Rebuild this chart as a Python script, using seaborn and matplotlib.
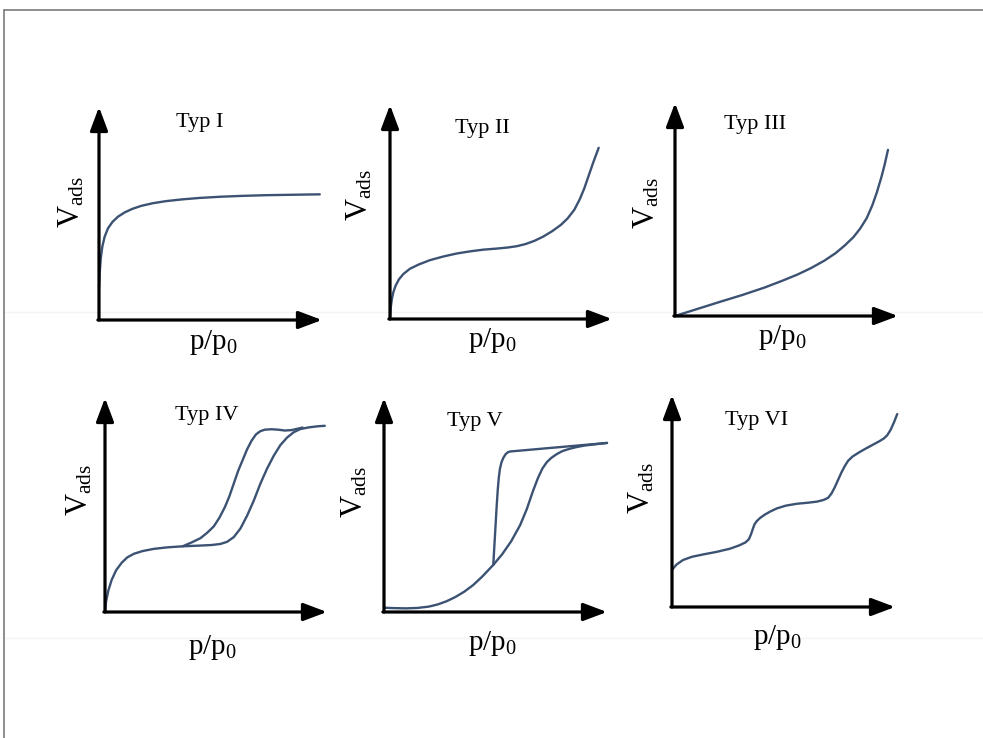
"""
Six classic IUPAC adsorption isotherm shapes (Typ I - VI), drawn as
schematic sketches with arrow axes.
"""

import matplotlib.pyplot as plt
import seaborn as sns
from matplotlib.lines import Line2D

W, H = 983, 738
LINE_COLOR = "#3c5273"

# curve values, as fractions of each axis (origin -> arrow tip)
typ1_x = [0, 0.003, 0.008, 0.015, 0.025, 0.04, 0.06, 0.085, 0.115, 0.15, 0.19, 0.24, 0.30, 0.37,
          0.45, 0.55, 0.65, 0.75, 0.87, 0.99]
typ1_y = [0.155, 0.22, 0.29, 0.345, 0.39, 0.43, 0.46, 0.485, 0.505, 0.522, 0.536, 0.548, 0.558, 0.566,
          0.573, 0.579, 0.583, 0.586, 0.588, 0.59]

typ2_x = [0, 0.003, 0.008, 0.015, 0.025, 0.04, 0.06, 0.09, 0.13, 0.18, 0.24, 0.30, 0.36, 0.42, 0.48,
          0.53, 0.57, 0.61, 0.65, 0.69, 0.73, 0.77, 0.80, 0.83, 0.855, 0.875, 0.895, 0.915, 0.94]
typ2_y = [0, 0.05, 0.09, 0.125, 0.155, 0.185, 0.21, 0.235, 0.255, 0.275, 0.292, 0.306, 0.316, 0.324, 0.329,
          0.334, 0.34, 0.35, 0.365, 0.385, 0.41, 0.44, 0.47, 0.51, 0.56, 0.61, 0.67, 0.73, 0.80]

typ3_x = [0, 0.1, 0.2, 0.3, 0.4, 0.48, 0.55, 0.61, 0.67, 0.72, 0.76, 0.80, 0.83, 0.86, 0.885, 0.905,
          0.925, 0.94, 0.955]
typ3_y = [0, 0.033, 0.066, 0.098, 0.133, 0.165, 0.195, 0.225, 0.26, 0.295, 0.33, 0.37, 0.41, 0.46, 0.52, 0.58,
          0.65, 0.71, 0.78]

typ4_ads_x = [0, 0.005, 0.015, 0.03, 0.05, 0.075, 0.10, 0.13, 0.17, 0.22, 0.28, 0.35, 0.42, 0.48, 0.52,
              0.55, 0.58, 0.61, 0.64, 0.67, 0.70, 0.73, 0.76, 0.79, 0.82, 0.85, 0.88, 0.92, 0.96, 0.99]
typ4_ads_y = [0, 0.05, 0.10, 0.15, 0.195, 0.23, 0.255, 0.272, 0.285, 0.295, 0.302, 0.307, 0.31, 0.313, 0.318,
              0.328, 0.35, 0.39, 0.45, 0.52, 0.60, 0.67, 0.73, 0.78, 0.815, 0.84, 0.855, 0.863, 0.868, 0.87]
typ4_des_x = [0.35, 0.39, 0.43, 0.46, 0.49, 0.515, 0.54, 0.56, 0.58, 0.60, 0.62, 0.64, 0.66, 0.68, 0.70,
              0.72, 0.75, 0.78, 0.81, 0.84, 0.87, 0.89]
typ4_des_y = [0.307, 0.325, 0.345, 0.37, 0.40, 0.44, 0.49, 0.54, 0.60, 0.66, 0.71, 0.76, 0.80, 0.83, 0.845,
              0.852, 0.854, 0.852, 0.848, 0.85, 0.857, 0.862]

typ5_ads_x = [0, 0.05, 0.10, 0.15, 0.20, 0.24, 0.28, 0.32, 0.36, 0.40, 0.44, 0.49, 0.53, 0.57, 0.61,
              0.64, 0.668, 0.69, 0.71, 0.73, 0.75, 0.775, 0.80, 0.83, 0.86, 0.90, 0.95, 1.0]
typ5_ads_y = [0.02, 0.018, 0.017, 0.019, 0.025, 0.035, 0.05, 0.07, 0.095, 0.126, 0.165, 0.22, 0.27, 0.33,
              0.405, 0.48, 0.565, 0.625, 0.67, 0.70, 0.72, 0.738, 0.752, 0.762, 0.77, 0.778, 0.784, 0.79]
typ5_des_x = [0.49, 0.495, 0.50, 0.505, 0.51, 0.515, 0.52, 0.527, 0.535, 0.545, 0.555, 0.565, 1.0]
typ5_des_y = [0.22, 0.31, 0.40, 0.49, 0.57, 0.63, 0.67, 0.70, 0.72, 0.737, 0.746, 0.75, 0.79]

typ6_x = [0, 0.02, 0.05, 0.09, 0.14, 0.20, 0.26, 0.30, 0.33, 0.345, 0.355, 0.363, 0.37, 0.38, 0.395,
          0.415, 0.44, 0.47, 0.51, 0.56, 0.61, 0.65, 0.68, 0.70, 0.715, 0.73, 0.745, 0.76, 0.775, 0.79,
          0.81, 0.84, 0.87, 0.90, 0.93, 0.95, 0.965, 0.98, 0.995, 1.01]
typ6_y = [0.175, 0.20, 0.222, 0.237, 0.248, 0.26, 0.275, 0.29, 0.305, 0.32, 0.345, 0.37, 0.39, 0.405, 0.42,
          0.435, 0.45, 0.465, 0.478, 0.487, 0.492, 0.497, 0.505, 0.515, 0.535, 0.565, 0.60, 0.635, 0.665, 0.69,
          0.71, 0.73, 0.748, 0.765, 0.782, 0.795, 0.81, 0.835, 0.87, 0.91]

titles = ["Typ I", "Typ II", "Typ III", "Typ IV", "Typ V", "Typ VI"]
curves = [
    [(typ1_x, typ1_y)],
    [(typ2_x, typ2_y)],
    [(typ3_x, typ3_y)],
    [(typ4_ads_x, typ4_ads_y), (typ4_des_x, typ4_des_y)],
    [(typ5_ads_x, typ5_ads_y), (typ5_des_x, typ5_des_y)],
    [(typ6_x, typ6_y)],
]

# layout in pixels: axis origin, axis lengths, and text anchors
panels = [
    dict(origin=(99, 320), size=(223, 213), title=(200, 123), ylab=(72, 202), xlab=(213, 343)),
    dict(origin=(390, 319), size=(222, 214), title=(482, 128), ylab=(360, 195), xlab=(492, 340)),
    dict(origin=(675, 316), size=(223, 213), title=(755, 124), ylab=(647, 203), xlab=(782, 337)),
    dict(origin=(105, 612), size=(222, 214), title=(207, 416), ylab=(80, 490), xlab=(212, 647)),
    dict(origin=(384, 612), size=(223, 214), title=(475, 421), ylab=(355, 492), xlab=(492, 643)),
    dict(origin=(672, 607), size=(223, 212), title=(757, 420), ylab=(642, 488), xlab=(777, 638)),
]

sns.set_theme(style="white")
plt.rcParams["font.family"] = ["Liberation Serif", "DejaVu Serif"]
plt.rcParams["mathtext.fontset"] = "custom"
plt.rcParams["mathtext.rm"] = "Liberation Serif"
plt.rcParams["mathtext.it"] = "Liberation Serif:italic"

fig = plt.figure(figsize=(W / 100, H / 100), dpi=100)
fig.patch.set_facecolor("white")


def fx(px):
    return px / W


def fy(py):
    return 1 - py / H


arrow = dict(arrowstyle="-|>,head_length=0.8,head_width=0.3", color="black",
             lw=2.3, mutation_scale=18, shrinkA=0, shrinkB=0)

for title, lines, p in zip(titles, curves, panels):
    ox, oy = p["origin"]
    w, h = p["size"]
    ax = fig.add_axes([fx(ox), fy(oy), w / W, h / H])
    ax.set_xlim(0, 1)
    ax.set_ylim(0, 1)
    ax.axis("off")

    for xs, ys in lines:
        sns.lineplot(x=xs, y=ys, ax=ax, sort=False, estimator=None, color=LINE_COLOR,
                     lw=1.7, clip_on=False, solid_joinstyle="round", solid_capstyle="round")

    ax.annotate("", xy=(0, 1), xytext=(0, 0), xycoords="axes fraction",
                textcoords="axes fraction", arrowprops=arrow, annotation_clip=False)
    ax.annotate("", xy=(1, 0), xytext=(-0.005, 0), xycoords="axes fraction",
                textcoords="axes fraction", arrowprops=arrow, annotation_clip=False)

    fig.text(fx(p["title"][0]), fy(p["title"][1]), title, ha="center", va="center",
             fontsize=16, color="black")
    fig.text(fx(p["ylab"][0]), fy(p["ylab"][1]), r"V$_{\mathrm{ads}}$", ha="center",
             va="center", rotation=90, fontsize=22, color="black")
    fig.text(fx(p["xlab"][0]), fy(p["xlab"][1]), r"p/p$_0$", ha="center", va="center",
             fontsize=21, color="black")

# page frame (top and left edges) and faint scan lines
fig.add_artist(Line2D([fx(4), 1], [fy(10), fy(10)], color="#7a7a7a", lw=1.2))
fig.add_artist(Line2D([fx(4), fx(4)], [fy(10), 0], color="#7a7a7a", lw=1.2))
for py in (312, 638):
    fig.add_artist(Line2D([fx(5), 1], [fy(py), fy(py)], color="#f3f3f3", lw=1.0, zorder=0))

fig.savefig("out.png", dpi=100, facecolor="white")
